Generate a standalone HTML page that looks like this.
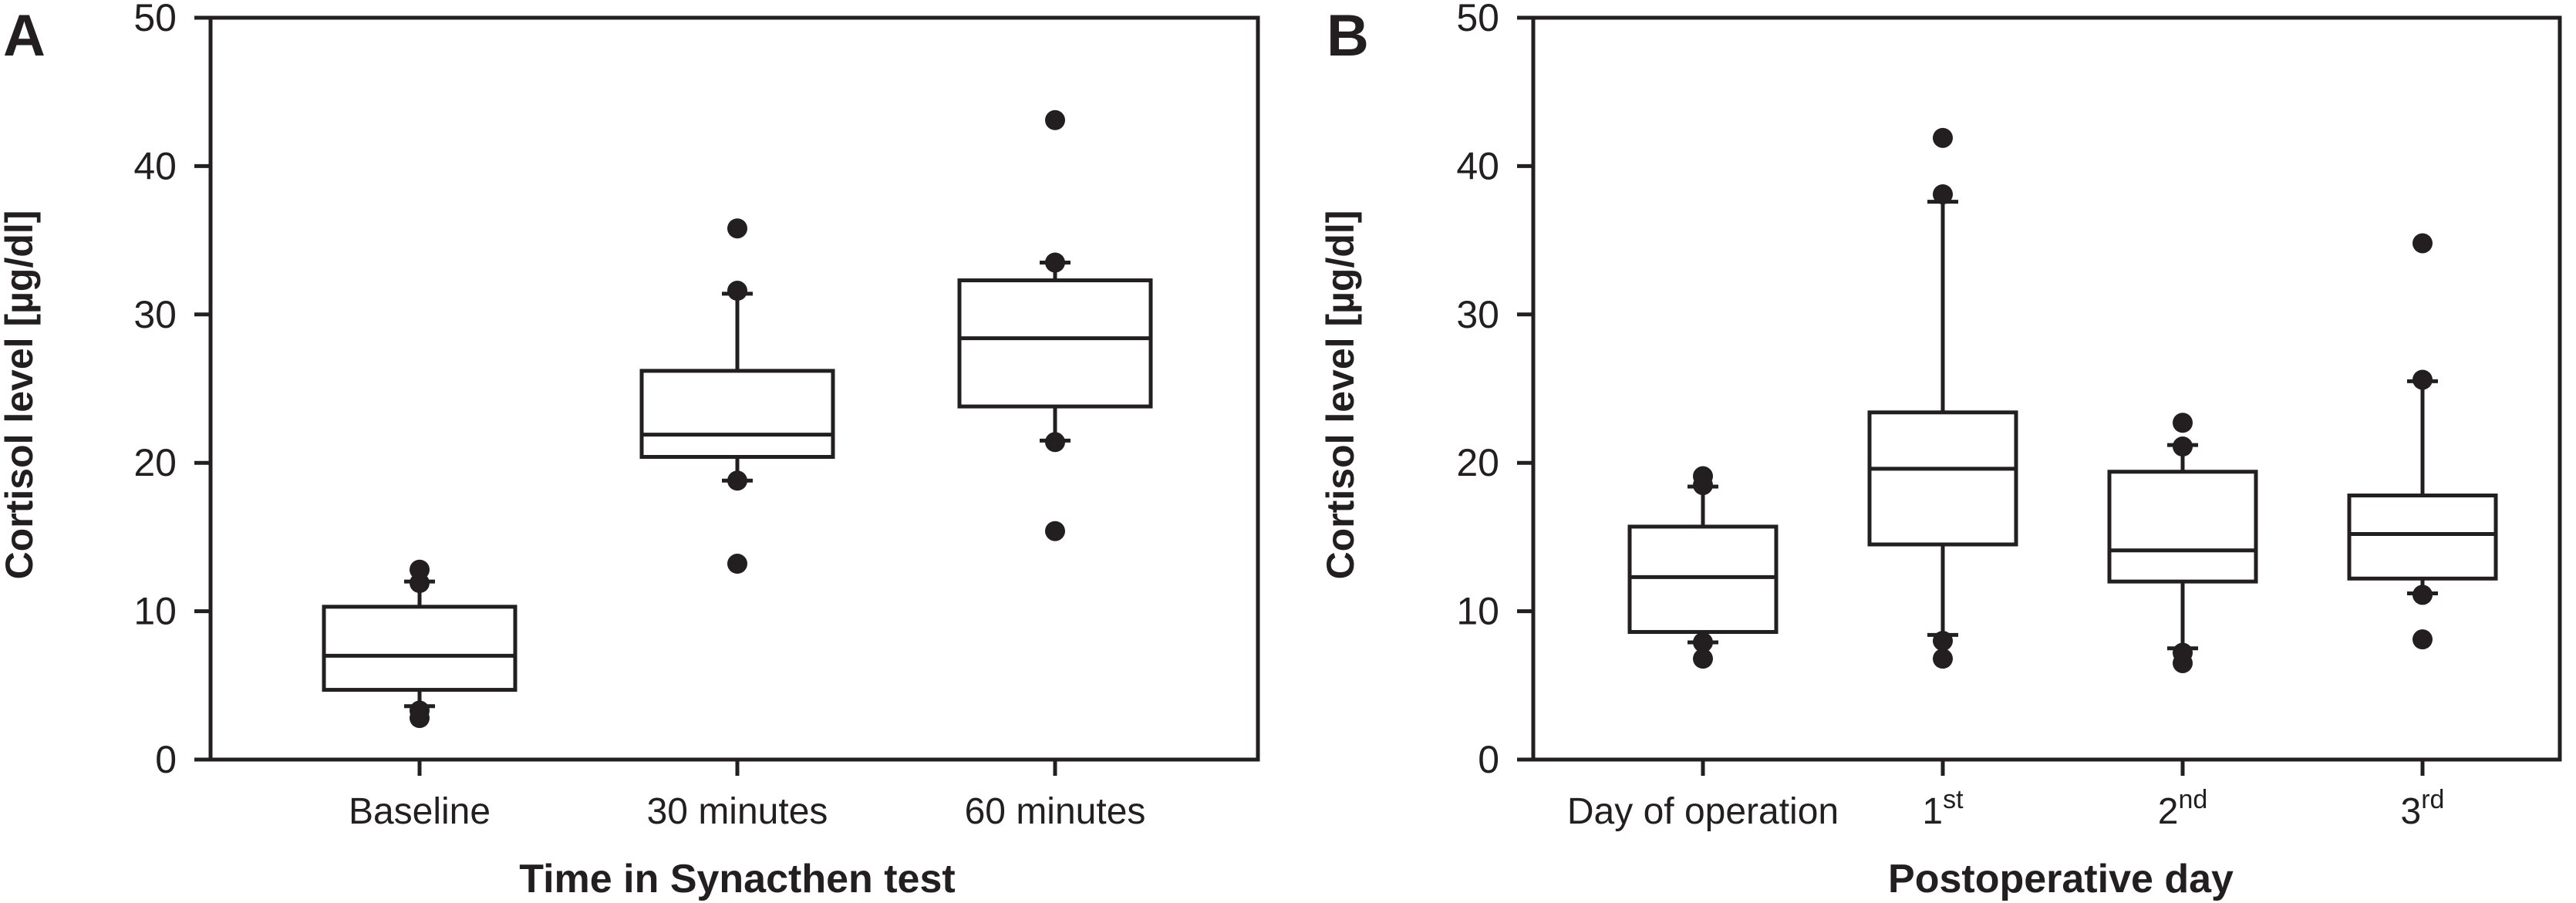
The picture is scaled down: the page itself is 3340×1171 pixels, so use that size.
<!DOCTYPE html>
<html><head><meta charset="utf-8"><style>
html,body{margin:0;padding:0;background:#fff;}
svg{display:block;}
text{font-family:"Liberation Sans Narrow","Liberation Sans",sans-serif;fill:#231f20;}
</style></head><body>
<svg id="chart" width="3340" height="1171" viewBox="0 0 3340 1171" xmlns="http://www.w3.org/2000/svg"></svg>
<script>
// Panel A data
const catsA = ["Baseline", "30 minutes", "60 minutes"];
const q1A = [4.7, 20.4, 23.8];
const medA = [7.0, 21.9, 28.4];
const q3A = [10.3, 26.2, 32.3];
const wLoA = [3.6, 18.8, 21.5];
const wHiA = [12.0, 31.4, 33.5];
const outA = [[12.8, 11.9, 3.3, 2.8], [35.8, 31.6, 18.8, 13.2], [43.1, 33.5, 21.4, 15.4]];
// Panel B data
const catsB = ["Day of operation", "1", "2", "3"];
const supB = ["", "st", "nd", "rd"];
const q1B = [8.6, 14.5, 12.0, 12.2];
const medB = [12.3, 19.6, 14.1, 15.2];
const q3B = [15.7, 23.4, 19.4, 17.8];
const wLoB = [7.9, 8.4, 7.5, 11.2];
const wHiB = [18.4, 37.6, 21.2, 25.5];
const outB = [[19.1, 18.5, 7.9, 6.8], [41.9, 38.1, 8.0, 6.8], [22.7, 21.1, 7.2, 6.5], [34.8, 25.6, 11.1, 8.1]];
const yTicks = [0, 10, 20, 30, 40, 50];

const NS = "http://www.w3.org/2000/svg";
const svg = document.getElementById("chart");
const C = "#231f20";
const SW = 5;
function mk(tag, attrs, parent) {
  const e = document.createElementNS(NS, tag);
  for (const k in attrs) e.setAttribute(k, attrs[k]);
  (parent || svg).appendChild(e);
  return e;
}
const Y0 = 985, Y1 = 23;
function y(v) { return Y0 - (v / 50) * (Y0 - Y1); }

function panel(cfg) {
  const g = mk("g", {});
  
  
  const frame = mk("rect", {x: cfg.left, y: Y1, width: cfg.right - cfg.left, height: Y0 - Y1, fill: "none", stroke: C, "stroke-width": SW}, g);
  
  
  yTicks.forEach(t => {
    const tl = mk("line", {x1: cfg.left - 21, x2: cfg.left, y1: y(t), y2: y(t), stroke: C, "stroke-width": SW}, g);
    
    
    const tx = mk("text", {x: cfg.left - 44, y: y(t) + 17, "text-anchor": "end", "font-size": 50}, g);
    tx.textContent = t;
    
    
  });
  const yt = mk("text", {x: 0, y: 0, "text-anchor": "middle", "font-size": 50, "font-weight": "bold", transform: `translate(${cfg.ytx},512) rotate(-90)`}, g);
  yt.textContent = "Cortisol level [µg/dl]";
  
  
  const xt = mk("text", {x: cfg.xtx, y: 1157, "text-anchor": "middle", "font-size": 52, "font-weight": "bold"}, g);
  xt.textContent = cfg.xtitle;
  
  
  const pl = mk("text", {x: cfg.lx, y: 72, "font-size": 76, "font-weight": "bold", "font-family": "Liberation Sans, sans-serif"}, g);
  pl.textContent = cfg.letter;
  
  
  const hw = cfg.halfW;
  cfg.cats.forEach((c, i) => {
    const cx = cfg.c0 + cfg.step * i;
    const tk = mk("line", {x1: cx, x2: cx, y1: Y0, y2: Y0 + 21, stroke: C, "stroke-width": SW}, g);
    
    
    const lb = mk("text", {x: cx, y: 1068, "text-anchor": "middle", "font-size": 48}, g);
    lb.textContent = c;
    if (cfg.sup && cfg.sup[i]) {
      const ts = mk("tspan", {"font-size": 34, dy: -20}, lb);
      ts.textContent = cfg.sup[i];
    }
    
    
    const bg = mk("g", {}, g);
    
    
    mk("line", {x1: cx, x2: cx, y1: y(cfg.wHi[i]), y2: y(cfg.q3[i]), stroke: C, "stroke-width": SW}, bg);
    mk("line", {x1: cx, x2: cx, y1: y(cfg.q1[i]), y2: y(cfg.wLo[i]), stroke: C, "stroke-width": SW}, bg);
    mk("line", {x1: cx - 20, x2: cx + 20, y1: y(cfg.wHi[i]), y2: y(cfg.wHi[i]), stroke: C, "stroke-width": SW}, bg);
    mk("line", {x1: cx - 20, x2: cx + 20, y1: y(cfg.wLo[i]), y2: y(cfg.wLo[i]), stroke: C, "stroke-width": SW}, bg);
    mk("rect", {x: cx - hw, y: y(cfg.q3[i]), width: 2 * hw, height: y(cfg.q1[i]) - y(cfg.q3[i]), fill: "#fff", stroke: C, "stroke-width": SW}, bg);
    mk("line", {x1: cx - hw, x2: cx + hw, y1: y(cfg.med[i]), y2: y(cfg.med[i]), stroke: C, "stroke-width": SW}, bg);
    cfg.out[i].forEach(v => {
      const d = mk("circle", {cx: cx, cy: y(v), r: 13, fill: C}, g);
      
      
    });
  });
}
panel({name: "panel-a", left: 273, right: 1631, c0: 544, step: 412, halfW: 124, cats: catsA,
  q1: q1A, med: medA, q3: q3A, wLo: wLoA, wHi: wHiA, out: outA, ytx: 42, xtx: 956,
  xtitle: "Time in Synacthen test", letter: "A", lx: 4});
panel({name: "panel-b", left: 1988, right: 3319, c0: 2208, step: 311, halfW: 95, cats: catsB, sup: supB,
  q1: q1B, med: medB, q3: q3B, wLo: wLoB, wHi: wHiB, out: outB, ytx: 1755, xtx: 2672,
  xtitle: "Postoperative day", letter: "B", lx: 1720});
</script>
</body></html>
